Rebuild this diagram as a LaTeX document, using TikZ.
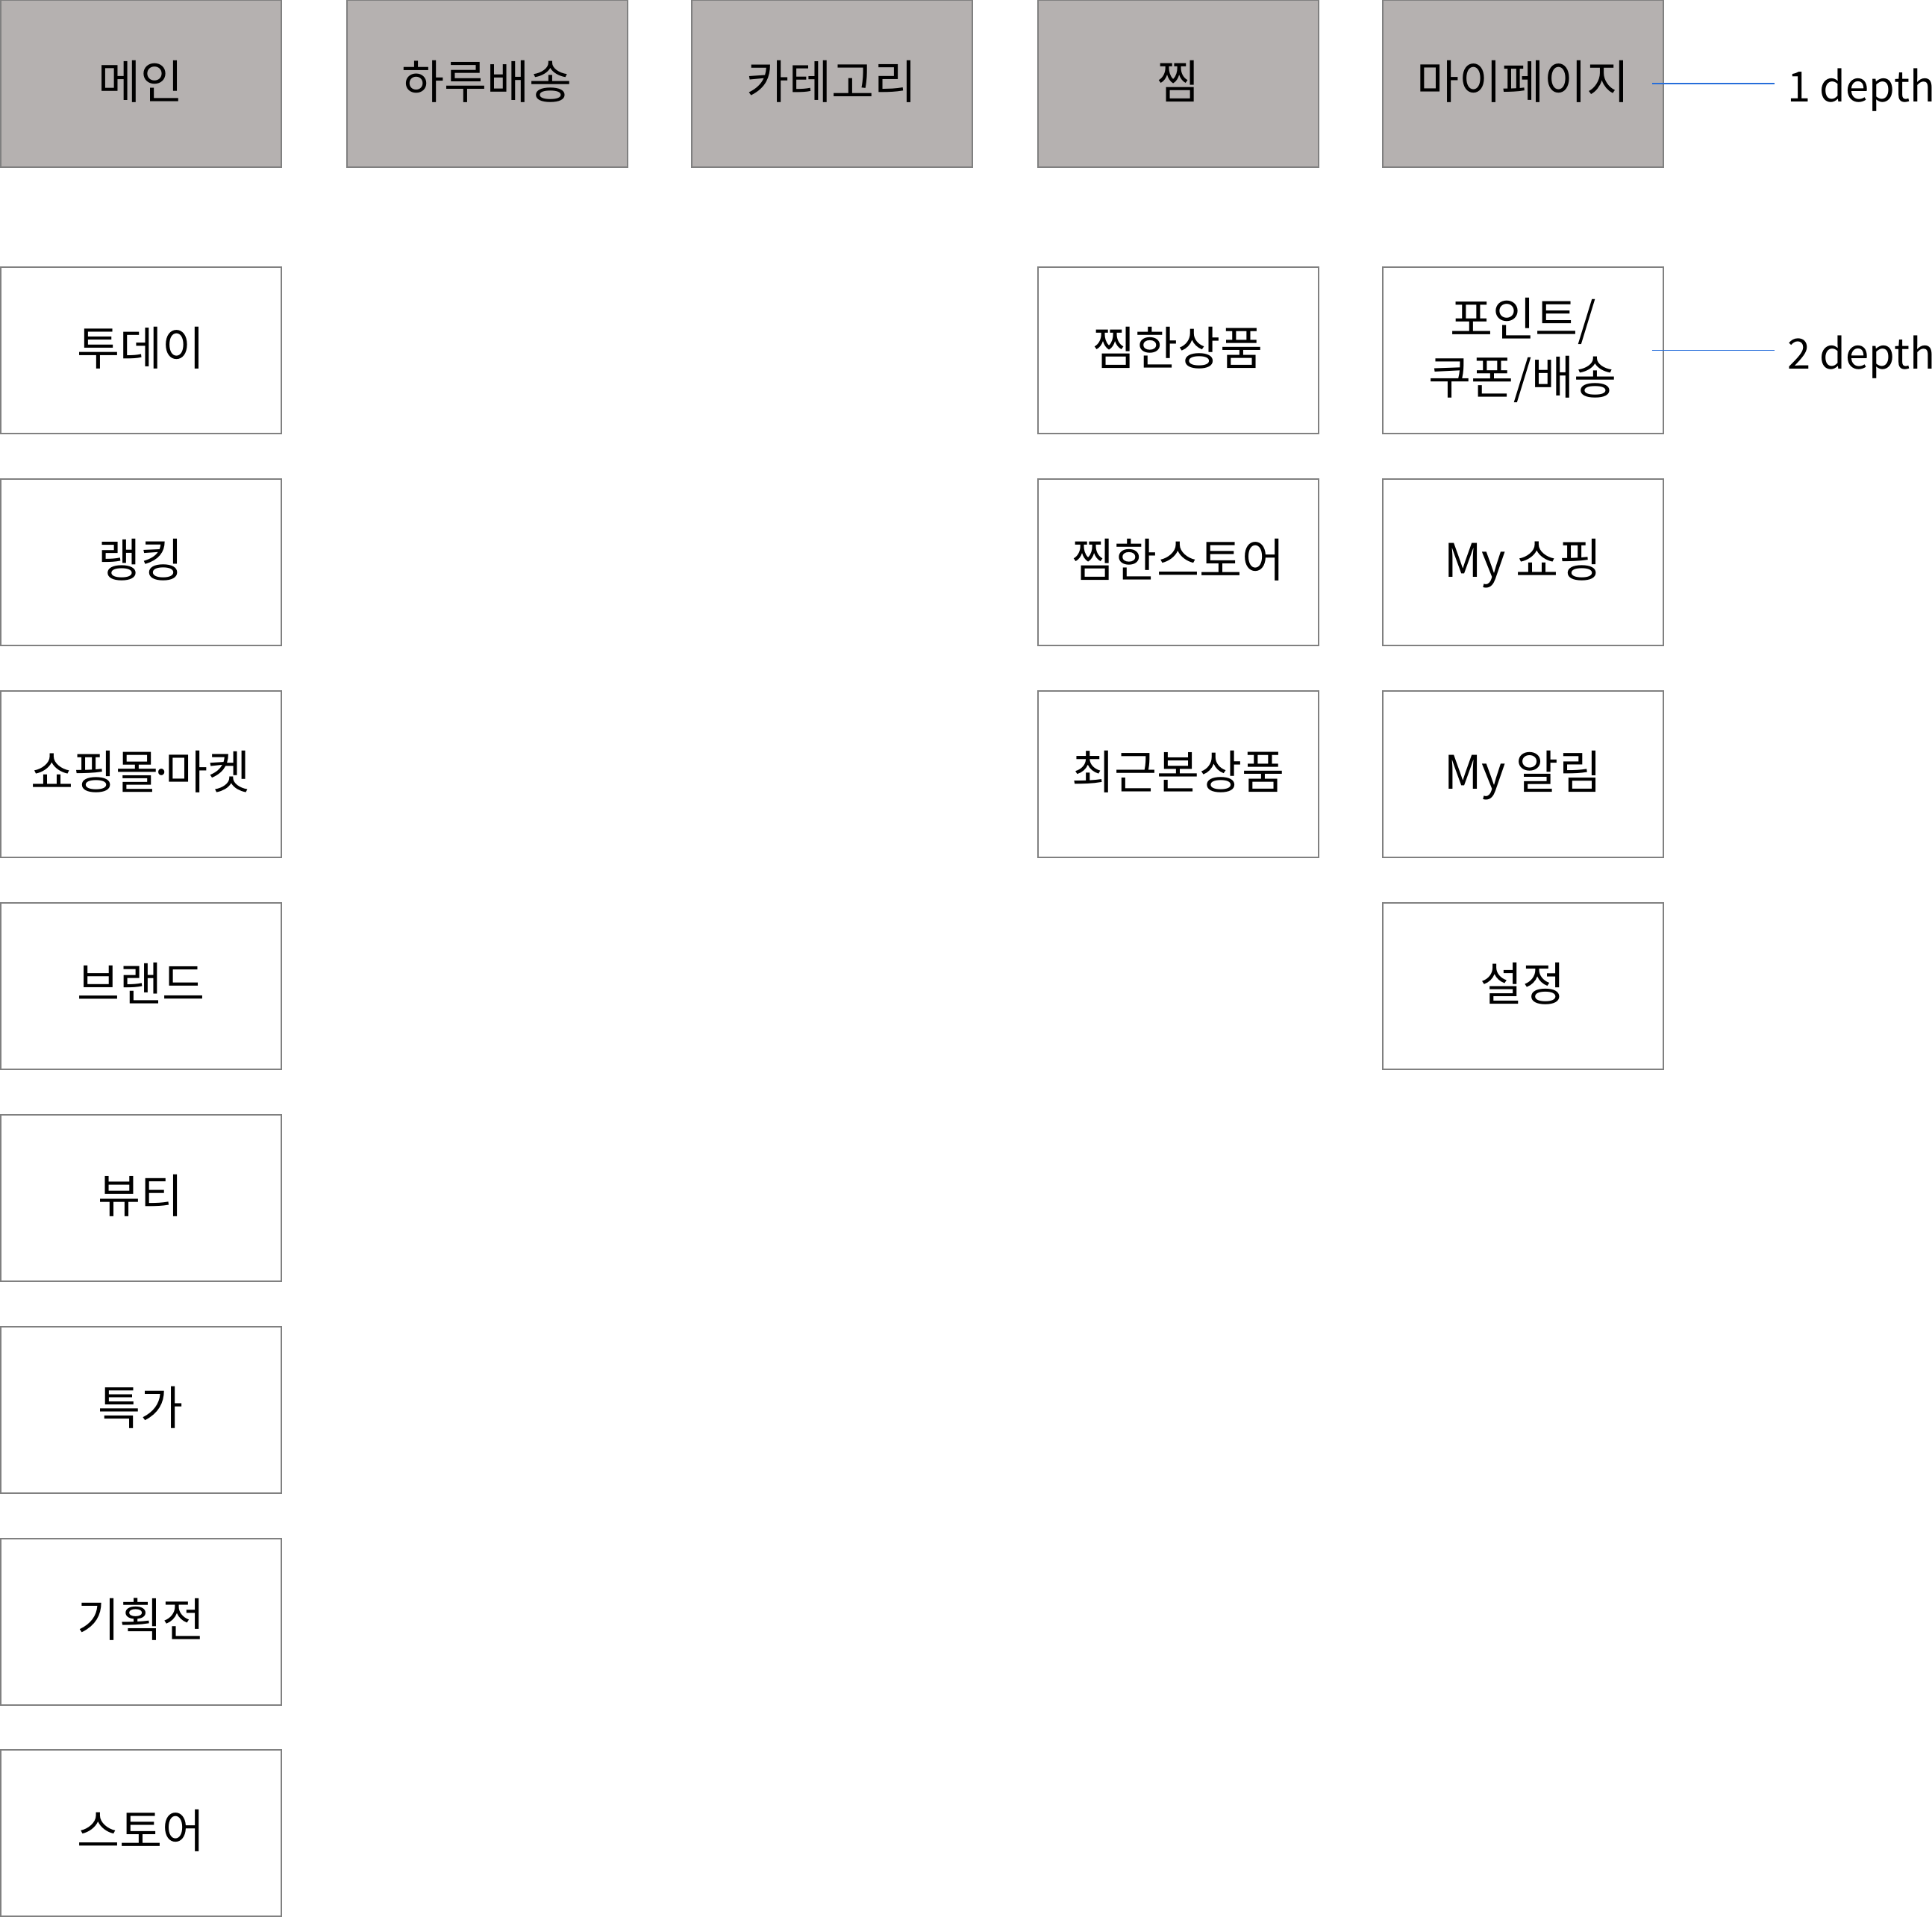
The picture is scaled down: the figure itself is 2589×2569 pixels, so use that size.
\documentclass[tikz,border=0pt]{standalone}
\usepackage{fontspec}
\setmainfont{Noto Sans CJK KR}
\definecolor{topfill}{RGB}{181,177,176}
\definecolor{bordergray}{RGB}{128,128,128}
\definecolor{linkblue}{RGB}{38,110,218}
\begin{document}
\begin{tikzpicture}[x=1pt,y=-1pt,
  cell/.style={draw=bordergray,line width=1.5pt,minimum width=376pt,minimum height=223pt,inner sep=0pt,anchor=north west,align=center,font=\fontsize{62}{78}\selectfont},
  oneline/.style={text height=52pt,text depth=12pt},
  topbox/.style={cell,oneline,fill=topfill},
  subbox/.style={cell,oneline,fill=white},
  twobox/.style={cell,fill=white},
  depthlabel/.style={anchor=base west,inner sep=0pt,font=\fontsize{56}{60}\selectfont},
  link/.style={draw=linkblue,line width=1.5pt}]
\useasboundingbox (0,0) rectangle (2589,2569);
% top row
\node[topbox] (main) at (0,0) {메인};
\node[topbox] (haru) at (464,0) {하루배송};
\node[topbox] (cate) at (926,0) {카테고리};
\node[topbox] (jjim) at (1390,0) {찜};
\node[topbox] (mypage) at (1852,0) {마이페이지};
% main column
\node[subbox] (today) at (0,357) {투데이};
\node[subbox] (rank) at (0,641) {랭킹};
\node[subbox] (mall) at (0,925) {쇼핑몰\kern-13pt·\kern-13pt마켓};
\node[subbox] (brand) at (0,1209) {브랜드};
\node[subbox] (beauty) at (0,1493) {뷰티};
\node[subbox] (sale) at (0,1777) {특가};
\node[subbox] (plan) at (0,2061) {기획전};
\node[subbox] (store) at (0,2344) {스토어};
% jjim column
\node[subbox] (jprod) at (1390,357) {찜한상품};
\node[subbox] (jstore) at (1390,641) {찜한스토어};
\node[subbox] (recent) at (1390,925) {최근본상품};
% mypage column
\node[twobox] (point) at (1852,357) {포인트/\\쿠폰/배송};
\node[subbox] (myshop) at (1852,641) {My 쇼핑};
\node[subbox] (myalarm) at (1852,925) {My 알림};
\node[subbox] (setting) at (1852,1209) {설정};
% depth labels
\node[depthlabel] (d1) at (2395,137) {1 depth};
\node[depthlabel] (d2) at (2395,494) {2 depth};
\draw[link] ([xshift=-16pt]mypage.east) -- ([xshift=-17pt]d1.west |- mypage.east);
\draw[link] ([xshift=-16pt]point.east) -- ([xshift=-17pt]d2.west |- point.east);
\end{tikzpicture}
\end{document}
